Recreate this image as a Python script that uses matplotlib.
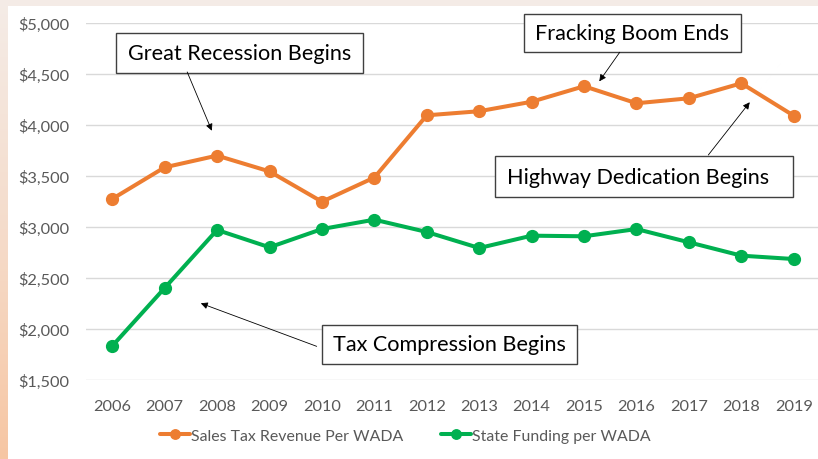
import matplotlib
matplotlib.use("Agg")
import matplotlib.pyplot as plt
import numpy as np
from matplotlib.patches import Rectangle
from matplotlib.colors import LinearSegmentedColormap

years = ["2006", "2007", "2008", "2009", "2010", "2011", "2012", "2013",
         "2014", "2015", "2016", "2017", "2018", "2019"]
sales_tax = [3275, 3585, 3700, 3545, 3248, 3485, 4095, 4135, 4228, 4380, 4213, 4262, 4409, 4091]
state_funding = [1833, 2402, 2971, 2801, 2980, 3072, 2951, 2794, 2915, 2909, 2980, 2850, 2719, 2686]
yticks = [1500, 2000, 2500, 3000, 3500, 4000, 4500, 5000]
series_names = ["Sales Tax Revenue Per WADA", "State Funding per WADA"]

# annotations: text, text anchor (x, y, ha), box center (x, y), box width, box height, arrow start, arrow tip
annotations = [
    ("Great Recession Begins", (2.43, 4706, "center"), (2.43, 4706), 4.71, 392, (1.43, 4520), (1.90, 3944)),
    ("Fracking Boom Ends", (9.92, 4900, "center"), (9.92, 4900), 4.14, 375, (9.68, 4713), (9.29, 4428)),
    ("Highway Dedication Begins", (7.53, 3495, "left"), (10.15, 3495), 5.68, 408, (11.37, 3706), (12.16, 4223)),
    ("Tax Compression Begins", (6.43, 1849, "center"), (6.43, 1849), 4.86, 385, (3.90, 1830), (1.69, 2252)),
]

plt.rcParams['font.family'] = ['Lato', 'DejaVu Sans']

W, H = 818, 460
fig = plt.figure(figsize=(W / 100, H / 100), dpi=100)

# background gradient
bg = fig.add_axes([0, 0, 1, 1])
cmap = LinearSegmentedColormap.from_list("bgc", ["#f4ece7", "#f5dccb", "#f7c6a3"])
grad = np.linspace(0, 1, 256).reshape(-1, 1)
bg.imshow(grad, aspect="auto", cmap=cmap, extent=[0, 1, 0, 1], origin="upper")
bg.set_axis_off()
bg.add_patch(Rectangle((8 / W, 0), 1, 1 - 7 / H, transform=bg.transAxes,
                       facecolor="white", edgecolor="none"))

ax = fig.add_axes([86 / W, 1 - 381 / H, (820 - 86) / W, (381 - 24) / H])
ax.set_facecolor("none")
x = np.arange(len(years))
ax.plot(x, sales_tax, color="#ED7D31", lw=2.9, marker="o", ms=8.5,
        label=series_names[0], solid_capstyle="round", zorder=3)
ax.plot(x, state_funding, color="#00B050", lw=2.9, marker="o", ms=8.5,
        label=series_names[1], solid_capstyle="round", zorder=3)

ax.set_xlim(-0.5, len(years) - 0.5)
ax.set_ylim(yticks[0], yticks[-1])
ax.set_yticks(yticks)
ax.set_yticklabels(["${:,}".format(v) for v in yticks])
ax.set_xticks(x)
ax.set_xticklabels(years)
ax.grid(axis="y", color="#d9d9d9", lw=1.0)
ax.set_axisbelow(True)
for s in ax.spines.values():
    s.set_visible(False)
ax.tick_params(axis="both", length=0, colors="#595959", labelsize=11.8)
ax.tick_params(axis="y", pad=12)
ax.tick_params(axis="x", pad=14)

for text, (tx, ty, ha), (cx, cy), bw, bh, start, tip in annotations:
    ax.add_patch(Rectangle((cx - bw / 2, cy - bh / 2), bw, bh, facecolor="white",
                           edgecolor="#404040", lw=1.0, clip_on=False, zorder=4))
    ax.text(tx, ty, text, ha=ha, va="center", fontsize=15.6,
            color="black", zorder=5, clip_on=False)
    ax.annotate("", xy=tip, xytext=start,
                arrowprops=dict(arrowstyle="-|>", color="black", lw=0.6,
                                mutation_scale=10, shrinkA=0, shrinkB=0),
                zorder=5, annotation_clip=False)

leg = fig.legend(loc="center", bbox_to_anchor=(405 / W, 1 - 437 / H), ncol=2,
                 frameon=False, fontsize=11.4, handlelength=1.9, handletextpad=0.05,
                 columnspacing=2.4, labelcolor="#595959", markerscale=0.8)

fig.savefig("out.png", dpi=100)
